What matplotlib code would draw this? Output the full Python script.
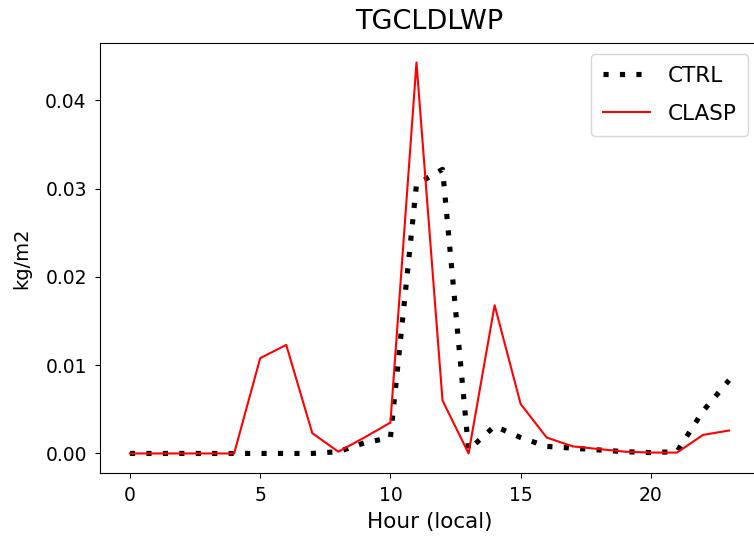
import matplotlib
matplotlib.use("Agg")
import matplotlib.pyplot as plt

hours = list(range(24))
ctrl = [0.0, 0.0, 0.0, 0.0, 0.0, 0.0, 0.0, 0.0, 0.0002, 0.0012, 0.0018, 0.0305,
        0.0322, 0.0004, 0.0031, 0.0018, 0.0008, 0.0006, 0.0004, 0.0002, 0.0001, 0.0002,
        0.0048, 0.0083]
clasp = [0.0, 0.0, 0.0, 0.0, 0.0, 0.0108, 0.0123, 0.0023, 0.0002, 0.0018, 0.0035, 0.0443,
         0.006, 0.0, 0.0168, 0.0056, 0.0018, 0.0008, 0.0005, 0.0002, 0.0001, 0.0001,
         0.0021, 0.0026]

fig = plt.figure(figsize=(7.54, 5.38), dpi=100)
# axes runs a little past the right edge of the figure, as in the reference crop
ax = fig.add_axes([100 / 754, 65 / 538, 659 / 754, 430 / 538])
ax.plot(hours, ctrl, color="black", linestyle=(0, (1, 2.2)), linewidth=3.7, label="CTRL")
ax.plot(hours, clasp, color="red", linewidth=1.5, label="CLASP")
ax.set_title("TGCLDLWP", fontsize=19.5, pad=10)
ax.set_xlabel("Hour (local)", fontsize=15.5, labelpad=5)
ax.set_ylabel("kg/m2", fontsize=14, labelpad=10)
ax.tick_params(labelsize=13.5, pad=6)
ax.legend(loc="upper right", fontsize=15.5, labelspacing=0.85, handlelength=2.2,
          borderpad=0.55)
fig.savefig("out.png", dpi=100)
